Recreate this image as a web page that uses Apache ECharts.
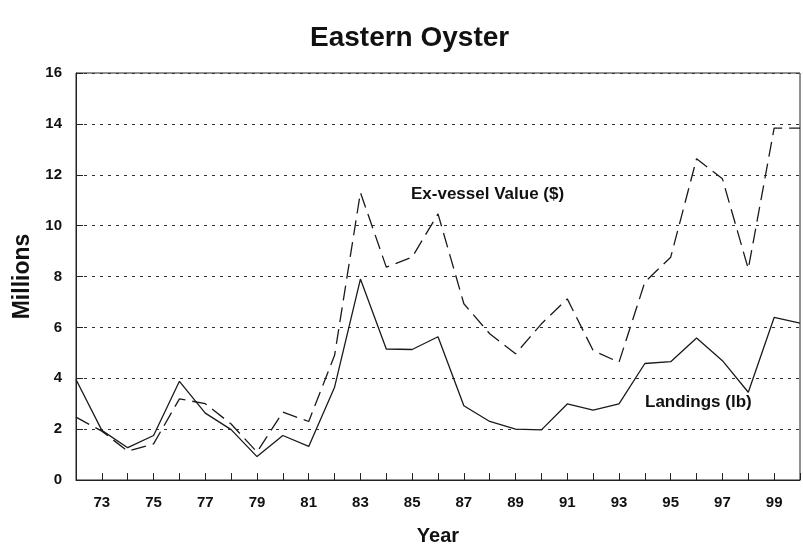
<!DOCTYPE html>
<html>
<head>
<meta charset="utf-8">
<title>Eastern Oyster</title>
<script src="https://cdn.jsdelivr.net/npm/echarts@6/dist/echarts.min.js"></script>
<style>
  html, body { margin: 0; padding: 0; background: #fff; }
  #mychart { width: 803px; height: 556px; }
</style>
</head>
<body>
<div id="mychart"></div>
<script>
// years 1972 - 2000, shown as two digits
var years = ["72", "73", "74", "75", "76", "77", "78", "79", "80", "81",
  "82", "83", "84", "85", "86", "87", "88", "89", "90", "91",
  "92", "93", "94", "95", "96", "97", "98", "99", "00"];

// Landings (lb), millions
var landings = [3.95, 1.95, 1.27, 1.75, 3.88, 2.63, 1.98, 0.92, 1.75, 1.32,
  3.65, 7.9, 5.15, 5.13, 5.63, 2.92, 2.3, 2.0, 1.97, 2.99,
  2.75, 2.99, 4.58, 4.65, 5.58, 4.69, 3.45, 6.39, 6.17];

// Ex-vessel value ($), millions
var exvessel = [2.47, 1.92, 1.13, 1.42, 3.19, 3.0, 2.2, 1.1, 2.67, 2.3,
  4.9, 11.3, 8.37, 8.76, 10.46, 6.93, 5.75, 4.96, 6.14, 7.12,
  5.09, 4.63, 7.78, 8.76, 12.63, 11.84, 8.3, 13.83, 13.83];

var yTicks = [0, 2, 4, 6, 8, 10, 12, 14, 16];

var font = "'Liberation Sans', Arial, sans-serif";

var myEcharts = echarts.init(document.getElementById("mychart"));

var option = {
  backgroundColor: "#fff",
  animation: false,
  title: {
    text: "Eastern Oyster",
    left: 305,
    top: 19,
    textStyle: { fontFamily: font, fontSize: 28, fontWeight: "bold", color: "#111" }
  },
  grid: {
    left: 76,
    right: 3,
    top: 73,
    bottom: 76,
    show: true,
    borderColor: "#222",
    borderWidth: 1
  },
  xAxis: {
    type: "category",
    data: years,
    boundaryGap: false,
    name: "Year",
    nameLocation: "middle",
    nameGap: 46,
    nameTextStyle: { fontFamily: font, fontSize: 20, fontWeight: "bold", color: "#111" },
    axisLine: { lineStyle: { color: "#222", width: 1 } },
    axisTick: { inside: true, length: 7, interval: 0, lineStyle: { color: "#222" } },
    axisLabel: {
      interval: function (index) { return index % 2 === 1; },
      margin: 15,
      fontFamily: font,
      fontSize: 15,
      fontWeight: "bold",
      color: "#111"
    },
    splitLine: { show: false }
  },
  yAxis: {
    type: "value",
    min: yTicks[0],
    max: yTicks[yTicks.length - 1],
    interval: 2,
    name: "Millions",
    nameLocation: "middle",
    nameGap: 39,
    nameRotate: 90,
    nameTextStyle: { fontFamily: font, fontSize: 23, fontWeight: "bold", color: "#111" },
    axisLine: { show: true, lineStyle: { color: "#222", width: 1 } },
    axisTick: { show: true, inside: true, length: 7, lineStyle: { color: "#222" } },
    axisLabel: {
      margin: 14,
      fontFamily: font,
      fontSize: 15,
      fontWeight: "bold",
      color: "#111"
    },
    splitLine: {
      show: true,
      lineStyle: { color: "#333", width: 1, type: [3, 5] }
    }
  },
  series: [
    {
      name: "Landings (lb)",
      type: "line",
      data: landings,
      symbol: "none",
      lineStyle: { color: "#1a1a1a", width: 1.3, type: "solid" }
    },
    {
      name: "Ex-vessel Value ($)",
      type: "line",
      data: exvessel,
      symbol: "none",
      lineStyle: { color: "#1a1a1a", width: 1.3, type: [15, 7] }
    }
  ],
  graphic: [
    {
      type: "text",
      left: 411,
      top: 186,
      style: { text: "Ex-vessel Value ($)", font: "bold 17px " + font, fill: "#111" }
    },
    {
      type: "text",
      left: 645,
      top: 394,
      style: { text: "Landings (lb)", font: "bold 17px " + font, fill: "#111" }
    }
  ]
};

myEcharts.setOption(option);
</script>
</body>
</html>
